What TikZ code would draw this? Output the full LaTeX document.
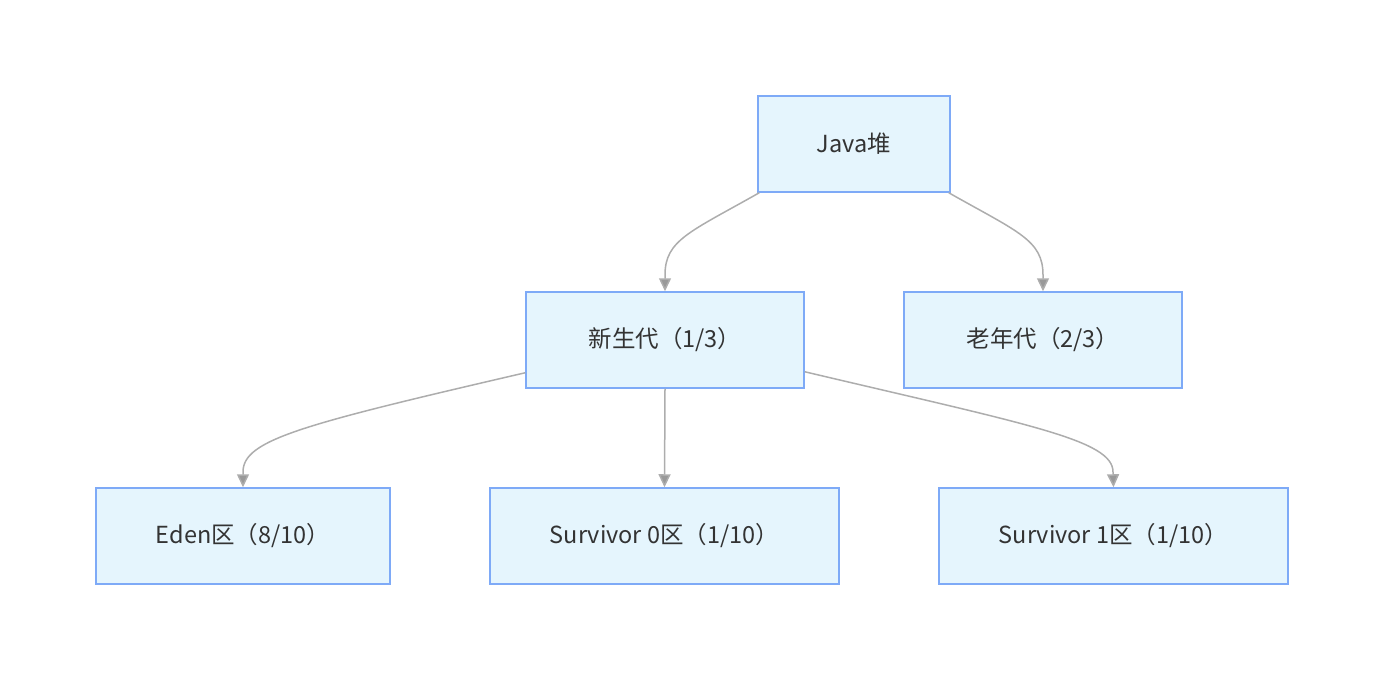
\documentclass[tikz,border=0pt]{standalone}
\usepackage{fontspec}
\setmainfont{Noto Sans CJK SC}
\usetikzlibrary{arrows.meta}
\definecolor{boxfill}{HTML}{E5F5FD}
\definecolor{boxline}{HTML}{7EAAF7}
\definecolor{edgeline}{HTML}{ADADAD}
\definecolor{tipfill}{HTML}{999999}
\definecolor{txt}{HTML}{333333}
\begin{document}
\begin{tikzpicture}[x=1pt,y=-1pt,
    heapbox/.style={draw=boxline,fill=boxfill,line width=1.5pt,inner sep=0pt,
      minimum height=96pt,text=txt,font=\fontsize{23.5}{28}\selectfont},
    link/.style={draw=edgeline,line width=1.5pt,
      -{Triangle[length=13pt,width=12pt,fill=tipfill]}}]
  \useasboundingbox (0,0) rectangle (1384,680);
  % boxes
  \node[heapbox,minimum width=192pt] (java) at (854,144) {Java堆};
  \node[heapbox,minimum width=278pt] (young) at (665,340) {新生代（1/3）};
  \node[heapbox,minimum width=278pt] (old) at (1043,340) {老年代（2/3）};
  \node[heapbox,minimum width=294pt] (eden) at (243,536) {Eden区（8/10）};
  \node[heapbox,minimum width=349pt] (surv0) at (664.5,536) {Survivor 0区（1/10）};
  \node[heapbox,minimum width=349pt] (surv1) at (1113.5,536) {Survivor 1区（1/10）};
  % links
  \draw[link] ([xshift=2pt]java.south west) .. controls (690,232) and (665,240)
    .. (665,275) -- (young.north);
  \draw[link] ([xshift=-2pt]java.south east) .. controls (1018,232) and (1043,240)
    .. (1043,275) -- (old.north);
  \draw[link] ([yshift=16pt]young.south west) .. controls (300,425) and (243,440)
    .. (243,472) -- (eden.north);
  \draw[link] (young.south) -- (surv0.north);
  \draw[link] ([yshift=17pt]young.south east) .. controls (1030,425) and (1113,440)
    .. (1113,472) -- (surv1.north);
\end{tikzpicture}
\end{document}
